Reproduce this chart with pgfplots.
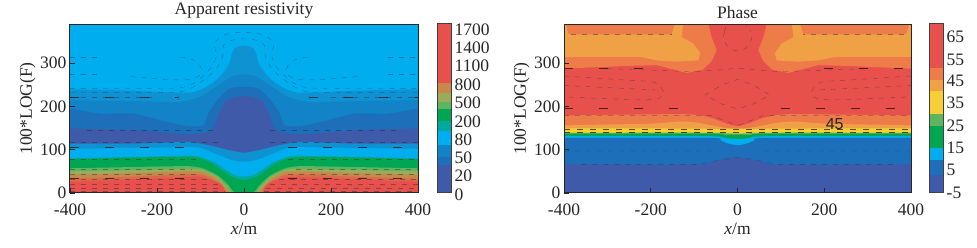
\documentclass[border=0pt]{standalone}
\usepackage{pgfplots}
\pgfplotsset{compat=1.18}
\usepackage{fontspec}
\setmainfont{Liberation Serif}
\definecolor{cRed}{HTML}{E8504C}
\definecolor{cOrR}{HTML}{DC6A4A}
\definecolor{cOr}{HTML}{EE7C48}
\definecolor{cTan}{HTML}{F0A045}
\definecolor{cBrn}{HTML}{C8874B}
\definecolor{cYel}{HTML}{F5CF35}
\definecolor{cTG}{HTML}{9AAB5A}
\definecolor{cLG}{HTML}{5DB55F}
\definecolor{cGrn}{HTML}{00A651}
\definecolor{cTeal}{HTML}{00A99D}
\definecolor{cCya}{HTML}{00AEEF}
\definecolor{cB1}{HTML}{0E92D2}
\definecolor{cB2}{HTML}{1283C6}
\definecolor{cB3}{HTML}{1C6FB8}
\definecolor{cPur}{HTML}{3E5AA8}
\definecolor{cLin}{HTML}{1B2A40}
\pgfplotsset{
  mapax/.style={scale only axis,width=348pt,height=169pt,xmin=-400,xmax=400,ymin=0,ymax=390,
    axis on top,clip=true,axis line style={line width=1pt,color=black!85},
    tick style={line width=0.9pt,color=black!85},major tick length=5pt,
    xtick={-400,-200,0,200,400},xticklabels={-400,-200,0,200,400},
    ytick={0,100,200,300},yticklabels={0,100,200,300},
    tick align=inside,xtick pos=bottom,ytick pos=left,
    tick label style={font=\fontsize{17.5}{18}\selectfont,text=black!85,inner sep=0pt},
    label style={font=\fontsize{17.5}{18}\selectfont,text=black!85},
    title style={font=\fontsize{17.5}{18}\selectfont,text=black!85},
    xlabel={\textit{x}/m},ylabel={100*LOG(F)},
    unbounded coords=jump,
    xticklabel style={yshift=-11pt},
    yticklabel style={xshift=-3.5pt},
    xlabel style={yshift=-3pt},
    ylabel style={yshift=1pt},
    title style={yshift=-4pt},
  },
  band/.style={draw=none,fill=#1,smooth,tension=0.35,forget plot},
  isl/.style={draw=none,fill=#1,forget plot},
  cl/.style={cLin,line width=0.4pt,dash pattern=on 5pt off 6pt,forget plot,opacity=0.45},
  clh/.style={black,line width=0.7pt,dash pattern=on 9pt off 26pt,forget plot,opacity=0.65},
  barax/.style={scale only axis,width=14pt,height=185pt,xmin=0,xmax=1,ymin=-10,ymax=175,
    axis line style={draw=none},tick style={draw=none},xtick=\empty,ytick pos=right,
    clip=false,yticklabel pos=right,
    tick label style={font=\fontsize{17.5}{18}\selectfont,text=black!85,inner sep=0pt},
    yticklabel style={xshift=3.5pt},
  },
  seg/.style={draw=none,fill=#1,forget plot},
}
\begin{document}
\begin{tikzpicture}
\path[use as bounding box] (0,0) rectangle (977pt,248pt);
% ---------- left panel
\begin{axis}[mapax,at={(70pt,55pt)},anchor=south west,title={Apparent resistivity}]
\addplot[isl=cCya] coordinates {(-400,0)(-400,390)(400,390)(400,0)} --cycle;
\addplot[band=cB1] coordinates {(-400,239)(-250,236)(-170,232)(-120,232)(-90,243)(-62,262)(-42,285)(-32,305)(-28,322)(-20,335)(-8,339)(0,340)(8,339)(20,335)(28,322)(32,305)(42,285)(62,262)(90,243)(120,232)(170,232)(250,236)(400,239)} \closedcycle;
\addplot[band=cB2] coordinates {(-400,214)(-250,212)(-150,210)(-100,222)(-70,242)(-45,258)(-25,270)(0,274)(25,270)(45,258)(70,242)(100,222)(150,210)(250,212)(400,214)} \closedcycle;
\addplot[band=cB3] coordinates {(-400,195)(-331,183)(-254,183)(-193,168)(-131,154)(-93,156)(-82,183)(-62,214)(-32,241)(0,245)(32,241)(62,214)(82,183)(93,156)(131,154)(193,168)(254,183)(331,183)(400,195)} \closedcycle;
\addplot[band=cPur] coordinates {(-400,149)(-254,145)(-131,135)(-82,141)(-66,156)(-58,183)(-42,212)(-17,222)(0,223)(17,222)(42,212)(58,183)(66,156)(82,141)(131,135)(254,145)(400,149)} \closedcycle;
\addplot[band=cB1] coordinates {(-400,114)(-250,114)(-130,118)(-100,114)(-70,108)(-40,100)(-15,95)(0,93)(15,95)(40,100)(70,108)(100,114)(130,118)(250,114)(400,114)} \closedcycle;
\addplot[band=cCya] coordinates {(-400,102)(-250,104)(-130,106)(-100,104)(-70,92)(-40,80)(-20,74)(0,72)(20,74)(40,80)(70,92)(100,104)(130,106)(250,104)(400,102)} \closedcycle;
\addplot[band=cTeal] coordinates {(-400,80)(-130,86)(-100,83)(-68,71)(-42,54)(-20,41)(0,38)(20,41)(42,54)(68,71)(100,83)(130,86)(400,80)} \closedcycle;
\addplot[band=cGrn] coordinates {(-400,78)(-250,82)(-130,83)(-100,80)(-70,66)(-45,48)(-20,34)(0,30)(20,34)(45,48)(70,66)(100,80)(130,83)(250,82)(400,78)} \closedcycle;
\addplot[band=cLG] coordinates {(-400,57)(-250,60)(-130,62)(-95,57)(-60,40)(-36,18)(-20,0)(20,0)(36,18)(60,40)(95,57)(130,62)(250,60)(400,57)} \closedcycle;
\addplot[band=cTG] coordinates {(-400,50)(-250,53)(-130,56)(-95,53)(-62,38)(-40,16)(-25,0)(25,0)(40,16)(62,38)(95,53)(130,56)(250,53)(400,50)} \closedcycle;
\addplot[band=cBrn] coordinates {(-400,42)(-250,46)(-130,50)(-95,48)(-65,34)(-45,15)(-30,0)(30,0)(45,15)(65,34)(95,48)(130,50)(250,46)(400,42)} \closedcycle;
\addplot[band=cOrR] coordinates {(-400,33)(-250,38)(-130,43)(-95,42)(-65,28)(-48,12)(-36,0)(36,0)(48,12)(65,28)(95,42)(130,43)(250,38)(400,33)} \closedcycle;
\addplot[band=cRed] coordinates {(-400,26)(-250,32)(-130,37)(-101,37)(-75,30)(-55,22)(-45,10)(-40,0)(40,0)(45,10)(55,22)(75,30)(101,37)(130,37)(250,32)(400,26)} \closedcycle;
% contour lines
\addplot[cl,smooth] coordinates {(-262,270)(-180,262)(-125,262)(-102,272)(-97,285)(-108,302)(-130,312)(-162,314)};
\addplot[cl,smooth] coordinates {(262,270)(180,262)(125,262)(102,272)(97,285)(108,302)(130,312)(162,314)};
\addplot[cl,smooth] coordinates {(-400,232)(-200,232)(-130,238)(-70,280)(-50,312)(-47,340)(-30,352)(0,356)(30,352)(47,340)(50,312)(70,280)(130,238)(200,232)(400,232)};
\addplot[cl,smooth] coordinates {(-400,241)(-200,241)(-125,248)(-75,290)(-64,320)(-68,345)(-45,365)(0,371)(45,365)(68,345)(64,320)(75,290)(125,248)(200,241)(400,241)};
\addplot[cl] coordinates {(-400,314)(-330,314)(nan,nan)(330,314)(400,314)(nan,nan)(-400,274)(-330,274)(nan,nan)(330,274)(400,274)
 (nan,nan)(-400,220)(-200,220)(nan,nan)(200,220)(400,220)(nan,nan)(-360,145)(-60,145)(nan,nan)(60,145)(360,145)
 (nan,nan)(-400,118)(-60,118)(nan,nan)(60,118)(400,118)(nan,nan)(-400,77)(-100,77)(nan,nan)(100,77)(400,77)
 (nan,nan)(-400,56)(-120,56)(nan,nan)(120,56)(400,56)(nan,nan)(-400,43)(-100,43)(nan,nan)(100,43)(400,43)
 (nan,nan)(-400,31)(-80,31)(nan,nan)(80,31)(400,31)(nan,nan)(-400,20)(-60,20)(nan,nan)(60,20)(400,20)
 (nan,nan)(-400,12)(-50,12)(nan,nan)(50,12)(400,12)(nan,nan)(-400,5)(-45,5)(nan,nan)(45,5)(400,5)};
\addplot[clh] coordinates {(-400,106)(-100,106)(nan,nan)(100,106)(400,106)(nan,nan)(-400,220)(-150,220)(nan,nan)(150,220)(400,220)(nan,nan)(-400,34)(-100,34)(nan,nan)(100,34)(400,34)};
\end{axis}
% colour bar 1
\begin{axis}[barax,at={(437pt,45pt)},anchor=south west,
  ytick={163,145,127,108,90,71,53,35,17,-2},
  yticklabels={1700,1400,1100,800,500,200,80,50,20,0}]
\addplot[seg=cPur] coordinates {(0,0)(1,0)(1,28)(0,28)} --cycle;
\addplot[seg=cB3] coordinates {(0,28)(1,28)(1,36)(0,36)} --cycle;
\addplot[seg=cB2] coordinates {(0,36)(1,36)(1,48)(0,48)} --cycle;
\addplot[seg=cCya] coordinates {(0,48)(1,48)(1,62)(0,62)} --cycle;
\addplot[seg=cTeal] coordinates {(0,62)(1,62)(1,72)(0,72)} --cycle;
\addplot[seg=cGrn] coordinates {(0,72)(1,72)(1,84)(0,84)} --cycle;
\addplot[seg=cLG] coordinates {(0,84)(1,84)(1,91)(0,91)} --cycle;
\addplot[seg=cTG] coordinates {(0,91)(1,91)(1,100)(0,100)} --cycle;
\addplot[seg=cBrn] coordinates {(0,100)(1,100)(1,110)(0,110)} --cycle;
\addplot[seg=cRed] coordinates {(0,110)(1,110)(1,169)(0,169)} --cycle;
\addplot[draw=black!75,line width=1pt,forget plot] coordinates {(0,0)(1,0)(1,169)(0,169)} --cycle;
\end{axis}
% ---------- right panel
\begin{axis}[mapax,at={(564pt,55pt)},anchor=south west,title={Phase},width=347pt]
\addplot[isl=cRed] coordinates {(-400,0)(-400,390)(400,390)(400,0)} --cycle;
\addplot[isl=cOr] coordinates {(-400,390)(-67,390)(-60,360)(-48,330)(-59,305)(-79,285)(-117,277)(-186,295)(-263,293)(-400,287)} --cycle;
\addplot[isl=cOr] coordinates {(400,390)(67,390)(60,360)(48,330)(59,305)(79,285)(117,277)(186,295)(263,293)(400,287)} --cycle;
\addplot[isl=cTan] coordinates {(-400,390)(-396,390)(-390,368)(-383,366)(-152,366)(-144,390)(-125,390)(-129,360)(-102,345)(-86,323)(-90,306)(-140,303)(-186,306)(-225,314)(-400,314)} --cycle;
\addplot[isl=cTan] coordinates {(400,390)(396,390)(390,368)(383,366)(152,366)(144,390)(125,390)(129,360)(102,345)(86,323)(90,306)(140,303)(186,306)(225,314)(400,314)} --cycle;
\addplot[band=cOr] coordinates {(-400,179)(-250,181)(-130,182)(-90,180)(-56,172)(-25,160)(0,154)(25,160)(56,172)(90,180)(130,182)(250,181)(400,179)} \closedcycle;
\addplot[band=cTan] coordinates {(-400,156)(-300,158)(-200,160)(-130,165)(-90,162)(-60,156)(-25,150)(0,149)(25,150)(60,156)(90,162)(130,165)(200,160)(300,158)(400,156)} \closedcycle;
\addplot[band=cYel] coordinates {(-400,149)(-200,149)(0,148)(200,149)(400,149)} \closedcycle;
\addplot[band=cLG] coordinates {(-400,139)(-60,139)(-30,138)(0,137)(30,138)(60,139)(400,139)} \closedcycle;
\addplot[band=cGrn] coordinates {(-400,137)(-60,137)(-30,134)(0,135)(30,134)(60,137)(400,137)} \closedcycle;
\addplot[band=cCya] coordinates {(-400,131)(-60,131)(-30,127)(0,124)(30,127)(60,131)(400,131)} \closedcycle;
\addplot[band=cB3] coordinates {(-400,127)(-60,127)(-40,122)(-25,115)(0,110)(25,115)(40,122)(60,127)(400,127)} \closedcycle;
\addplot[band=cPur] coordinates {(-400,66)(-90,66)(-60,72)(-25,79)(0,82)(25,79)(60,72)(90,66)(400,66)} \closedcycle;
% contour lines
\addplot[cl,smooth] coordinates {(-30,372)(-32,355)(-20,335)(0,328)(20,335)(32,355)(30,372)};
\addplot[cl,smooth] coordinates {(-30,372)(-25,385)(-10,390)(10,390)(25,385)(30,372)};
\addplot[cl] coordinates {(-75,226)(-35,250)(0,262)(35,250)(75,226)(35,205)(0,194)(-35,205)(-75,226)};
\addplot[cl] coordinates {(-300,287)(-100,280)(-30,285)(0,288)(30,285)(100,280)(300,287)};
\addplot[cl,smooth] coordinates {(-400,270)(-250,260)(-190,255)(-170,228)(-210,215)(-400,222)};
\addplot[cl,smooth] coordinates {(400,270)(250,260)(190,255)(170,228)(210,215)(400,222)};
\addplot[cl] coordinates {(-400,248)(-190,238)(nan,nan)(190,238)(400,248)(nan,nan)(-400,179)(-60,179)(-25,165)(0,156)(25,165)(60,179)(400,179)};
\addplot[cl] coordinates {(-383,366)(-152,366)(nan,nan)(383,366)(152,366)};
\addplot[clh] coordinates {(-400,287)(-200,287)(nan,nan)(200,287)(400,287)(nan,nan)(-400,195)(-100,195)(nan,nan)(100,195)(400,195)};
\addplot[clh,dash pattern=on 6pt off 7pt,line width=0.5pt] coordinates {(-400,146)(400,146)(nan,nan)(-400,141)(400,141)};
\addplot[cl] coordinates {(-400,97)(-60,97)(nan,nan)(60,97)(400,97)(nan,nan)(-360,66)(-90,66)(-60,72)(-25,79)(0,82)(25,79)(60,72)(90,66)(360,66)};
\node[font=\fontspec{Liberation Sans}\fontsize{16}{16}\selectfont,text=black!85] at (axis cs:224,159) {45};
\end{axis}
% colour bar 2
\begin{axis}[barax,at={(929pt,45pt)},anchor=south west,
  ytick={156,133,112,90,67,45,23,0},
  yticklabels={65,55,45,35,25,15,5,-5}]
\addplot[seg=cPur] coordinates {(0,0)(1,0)(1,18)(0,18)} --cycle;
\addplot[seg=cB3] coordinates {(0,18)(1,18)(1,33)(0,33)} --cycle;
\addplot[seg=cCya] coordinates {(0,33)(1,33)(1,45)(0,45)} --cycle;
\addplot[seg=cGrn] coordinates {(0,45)(1,45)(1,67)(0,67)} --cycle;
\addplot[seg=cLG] coordinates {(0,67)(1,67)(1,79)(0,79)} --cycle;
\addplot[seg=cYel] coordinates {(0,79)(1,79)(1,102)(0,102)} --cycle;
\addplot[seg=cTan] coordinates {(0,102)(1,102)(1,113)(0,113)} --cycle;
\addplot[seg=cOr] coordinates {(0,113)(1,113)(1,125)(0,125)} --cycle;
\addplot[seg=cRed] coordinates {(0,125)(1,125)(1,169)(0,169)} --cycle;
\addplot[draw=black!75,line width=1pt,forget plot] coordinates {(0,0)(1,0)(1,169)(0,169)} --cycle;
\end{axis}
\end{tikzpicture}
\end{document}
